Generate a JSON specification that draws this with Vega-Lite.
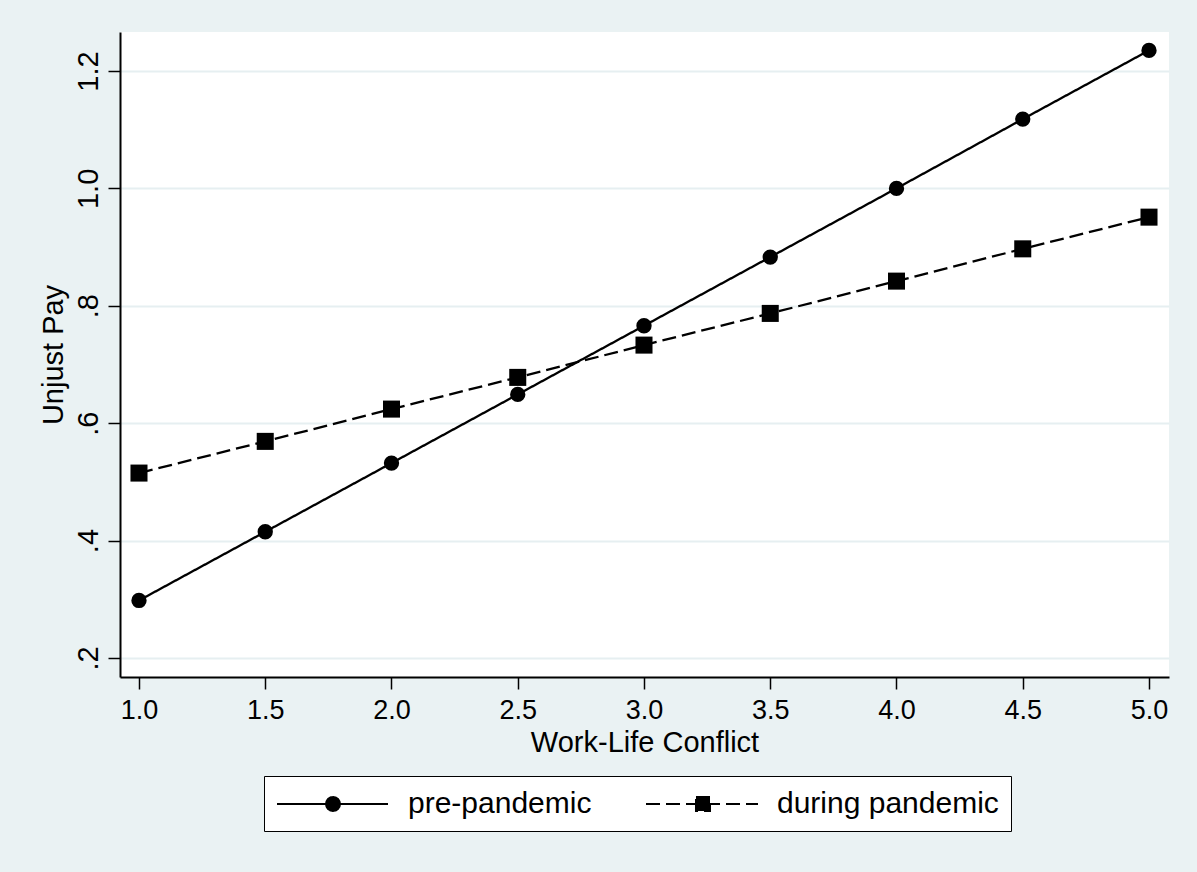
{
  "$schema": "https://vega.github.io/schema/vega-lite/v6.json",
  "width": 1049,
  "height": 645,
  "autosize": {"type": "none"},
  "padding": {"left": 120, "top": 32, "right": 28, "bottom": 195},
  "background": "#EAF2F3",
  "view": {"fill": "white", "stroke": null},
  "config": {
    "font": "Liberation Sans",
    "axis": {
      "domainColor": "black",
      "domainWidth": 2,
      "tickColor": "black",
      "tickWidth": 1.5,
      "tickSize": 12,
      "labelColor": "black",
      "labelFont": "Liberation Sans",
      "labelFontSize": 27,
      "titleFont": "Liberation Sans",
      "titleFontSize": 29,
      "titleFontWeight": "normal",
      "titleColor": "black",
      "gridColor": "#E6EFF1",
      "gridWidth": 2,
      "gridOpacity": 1
    },
    "legend": {
      "title": null,
      "orient": "none",
      "legendX": 144,
      "legendY": 744,
      "direction": "horizontal",
      "columns": 2,
      "symbolSize": 900,
      "symbolStrokeWidth": 2,
      "symbolFillColor": "black",
      "symbolStrokeColor": "black",
      "symbolOpacity": 1,
      "labelFont": "Liberation Sans",
      "labelFontSize": 30,
      "labelColor": "black",
      "labelOffset": 100,
      "labelLimit": 500,
      "columnPadding": 50,
      "padding": 12,
      "strokeColor": "black",
      "fillColor": "white",
      "cornerRadius": 0
    }
  },
  "data": {
    "values": [
      {"wlc": 1.0, "pay": 0.298, "series": "pre-pandemic"},
      {"wlc": 1.5, "pay": 0.415, "series": "pre-pandemic"},
      {"wlc": 2.0, "pay": 0.532, "series": "pre-pandemic"},
      {"wlc": 2.5, "pay": 0.649, "series": "pre-pandemic"},
      {"wlc": 3.0, "pay": 0.766, "series": "pre-pandemic"},
      {"wlc": 3.5, "pay": 0.883, "series": "pre-pandemic"},
      {"wlc": 4.0, "pay": 1.000, "series": "pre-pandemic"},
      {"wlc": 4.5, "pay": 1.118, "series": "pre-pandemic"},
      {"wlc": 5.0, "pay": 1.235, "series": "pre-pandemic"},
      {"wlc": 1.0, "pay": 0.515, "series": "during pandemic"},
      {"wlc": 1.5, "pay": 0.569, "series": "during pandemic"},
      {"wlc": 2.0, "pay": 0.624, "series": "during pandemic"},
      {"wlc": 2.5, "pay": 0.678, "series": "during pandemic"},
      {"wlc": 3.0, "pay": 0.733, "series": "during pandemic"},
      {"wlc": 3.5, "pay": 0.787, "series": "during pandemic"},
      {"wlc": 4.0, "pay": 0.842, "series": "during pandemic"},
      {"wlc": 4.5, "pay": 0.897, "series": "during pandemic"},
      {"wlc": 5.0, "pay": 0.951, "series": "during pandemic"}
    ]
  },
  "encoding": {
    "x": {
      "field": "wlc",
      "type": "quantitative",
      "scale": {"domain": [0.9248, 5.0792], "nice": false, "zero": false},
      "axis": {
        "title": "Work-Life Conflict",
        "values": [1, 1.5, 2, 2.5, 3, 3.5, 4, 4.5, 5],
        "format": ".1f",
        "grid": false,
        "labelPadding": 8,
        "titlePadding": 5,
        "labelFlush": false
      }
    },
    "y": {
      "field": "pay",
      "type": "quantitative",
      "scale": {"domain": [0.1676, 1.2664], "nice": false, "zero": false},
      "axis": {
        "title": "Unjust Pay",
        "values": [0.2, 0.4, 0.6, 0.8, 1.0, 1.2],
        "labelExpr": "datum.value >= 1 ? format(datum.value, '.1f') : replace(format(datum.value, '.1f'), '0.', '.')",
        "labelAngle": -90,
        "labelAlign": "center",
        "labelBaseline": "alphabetic",
        "labelFontSize": 29,
        "labelPadding": 11,
        "labelFlush": false,
        "titlePadding": 6,
        "grid": true
      }
    }
  },
  "layer": [
    {
      "mark": {"type": "line", "color": "black", "strokeWidth": 2.3},
      "encoding": {
        "strokeDash": {
          "field": "series",
          "type": "nominal",
          "scale": {"domain": ["pre-pandemic", "during pandemic"], "range": [[1, 0], [14, 6]]}
        }
      }
    },
    {
      "transform": [{"filter": "datum.series === 'pre-pandemic'"}],
      "mark": {"type": "point", "filled": true, "color": "black", "opacity": 1, "shape": "circle", "size": 235}
    },
    {
      "transform": [{"filter": "datum.series === 'during pandemic'"}],
      "mark": {"type": "point", "filled": true, "color": "black", "opacity": 1, "shape": "square", "size": 290}
    },
    {
      "mark": {"type": "point", "filled": true, "color": "black", "opacity": 0},
      "encoding": {
        "shape": {
          "field": "series",
          "type": "nominal",
          "scale": {
            "domain": ["pre-pandemic", "during pandemic"],
            "range": [
              "M-1,0L6.4,0M3.2,0L3.164,0.179L3.063,0.33L2.912,0.431L2.733,0.467L2.554,0.431L2.403,0.33L2.302,0.179L2.266,0L2.302,-0.179L2.403,-0.33L2.554,-0.431L2.733,-0.467L2.912,-0.431L3.063,-0.33L3.164,-0.179Z",
              "M-1,0L6.467,0M2.333,-0.467L3.267,-0.467L3.267,0.467L2.333,0.467Z"
            ]
          }
        },
        "stroke": {
          "field": "series",
          "type": "nominal",
          "scale": {"domain": ["pre-pandemic", "during pandemic"], "range": ["black", "black"]}
        }
      }
    }
  ]
}
